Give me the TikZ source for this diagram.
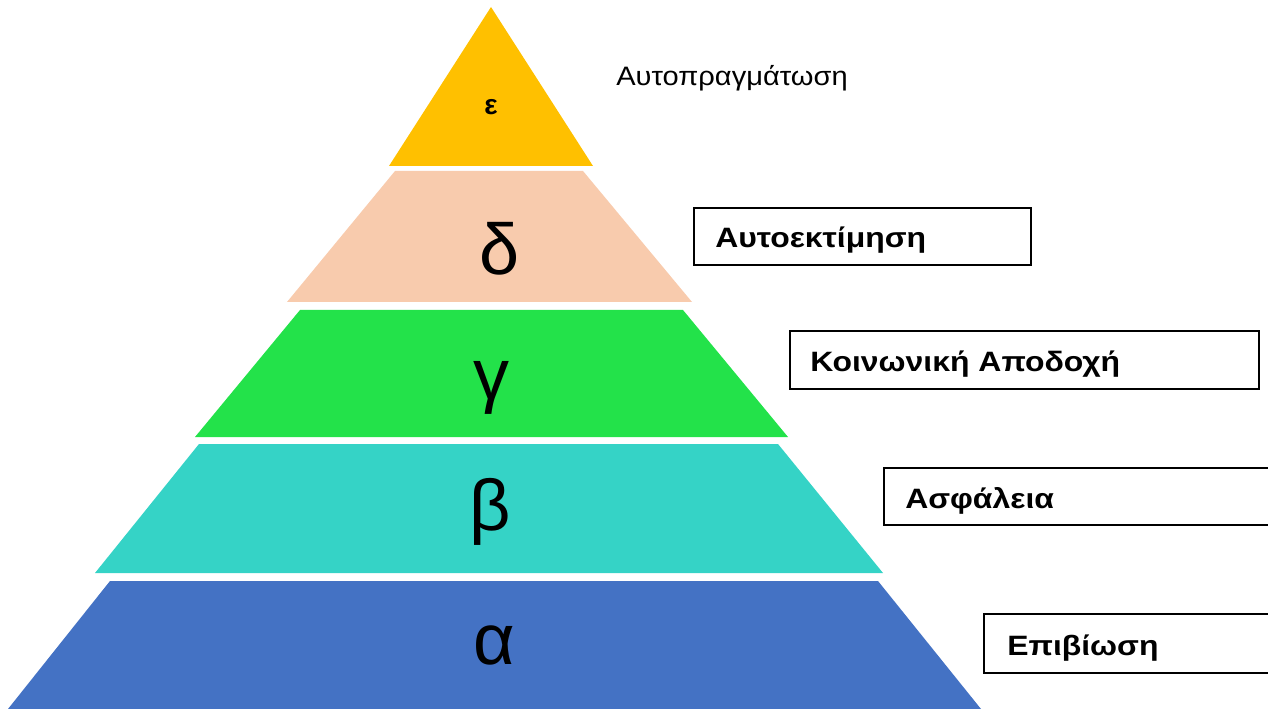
\documentclass[tikz,border=0pt]{standalone}
\usepackage{graphicx}
\usepackage{fontspec}
\setmainfont{Liberation Sans}
\definecolor{epsc}{HTML}{FFC000}
\definecolor{deltac}{HTML}{F8CBAD}
\definecolor{gammac}{HTML}{23E24A}
\definecolor{betac}{HTML}{35D3C6}
\definecolor{alphac}{HTML}{4472C4}
\newcommand{\widelbl}[1]{\scalebox{1.14}[1]{#1}}
\begin{document}
\begin{tikzpicture}[x=0.75pt,y=-0.75pt,
  bigletter/.style={inner sep=0pt,anchor=base,font=\fontsize{54}{60}\selectfont},
  toplbl/.style={inner sep=0pt,anchor=base,font=\fontsize{21}{25}\selectfont\bfseries},
  plainlbl/.style={inner sep=0pt,anchor=base west,font=\fontsize{20}{24}\selectfont},
  boxlbl/.style={inner sep=0pt,anchor=base west,font=\fontsize{21}{25}\selectfont\bfseries},
  boxline/.style={draw=black,line width=1.4pt}]
\useasboundingbox (0,0) rectangle (1268,709);
\clip (0,0) rectangle (1268,709);
% pyramid bands
\fill[epsc] (491,7) -- (593,166) -- (389,166) -- cycle;
\fill[deltac] (395,171) -- (583,171) -- (692,302) -- (287,302) -- cycle;
\fill[gammac] (300,310) -- (683,310) -- (788,437) -- (195,437) -- cycle;
\fill[betac] (199,444) -- (778,444) -- (883,573) -- (95,573) -- cycle;
\fill[alphac] (110,581) -- (878,581) -- (981,709) -- (8,709) -- cycle;
% band letters
\node[toplbl] (eps) at (491,115) {ε};
\node[bigletter] (delta) at (500,275) {δ};
\node[bigletter] (gamma) at (491,400) {γ};
\node[bigletter] (beta) at (490,530) {β};
\node[bigletter] (alpha) at (494,664) {α};
% labels
\node[plainlbl] (l5) at (616,86) {\scalebox{1.09}[1]{Αυτοπραγμάτωση}};
\draw[boxline] (694,208) rectangle (1031,265);
\node[boxlbl] (l4) at (715,248) {\widelbl{Αυτοεκτίμηση}};
\draw[boxline] (790,331) rectangle (1259,389);
\node[boxlbl] (l3) at (810,372) {\widelbl{Κοινωνική Αποδοχή}};
\draw[boxline] (884,468) rectangle (1290,525);
\node[boxlbl] (l2) at (905,508) {\widelbl{Ασφάλεια}};
\draw[boxline] (984,614) rectangle (1290,673);
\node[boxlbl] (l1) at (1007,655) {\widelbl{Επιβίωση}};
\end{tikzpicture}
\end{document}
